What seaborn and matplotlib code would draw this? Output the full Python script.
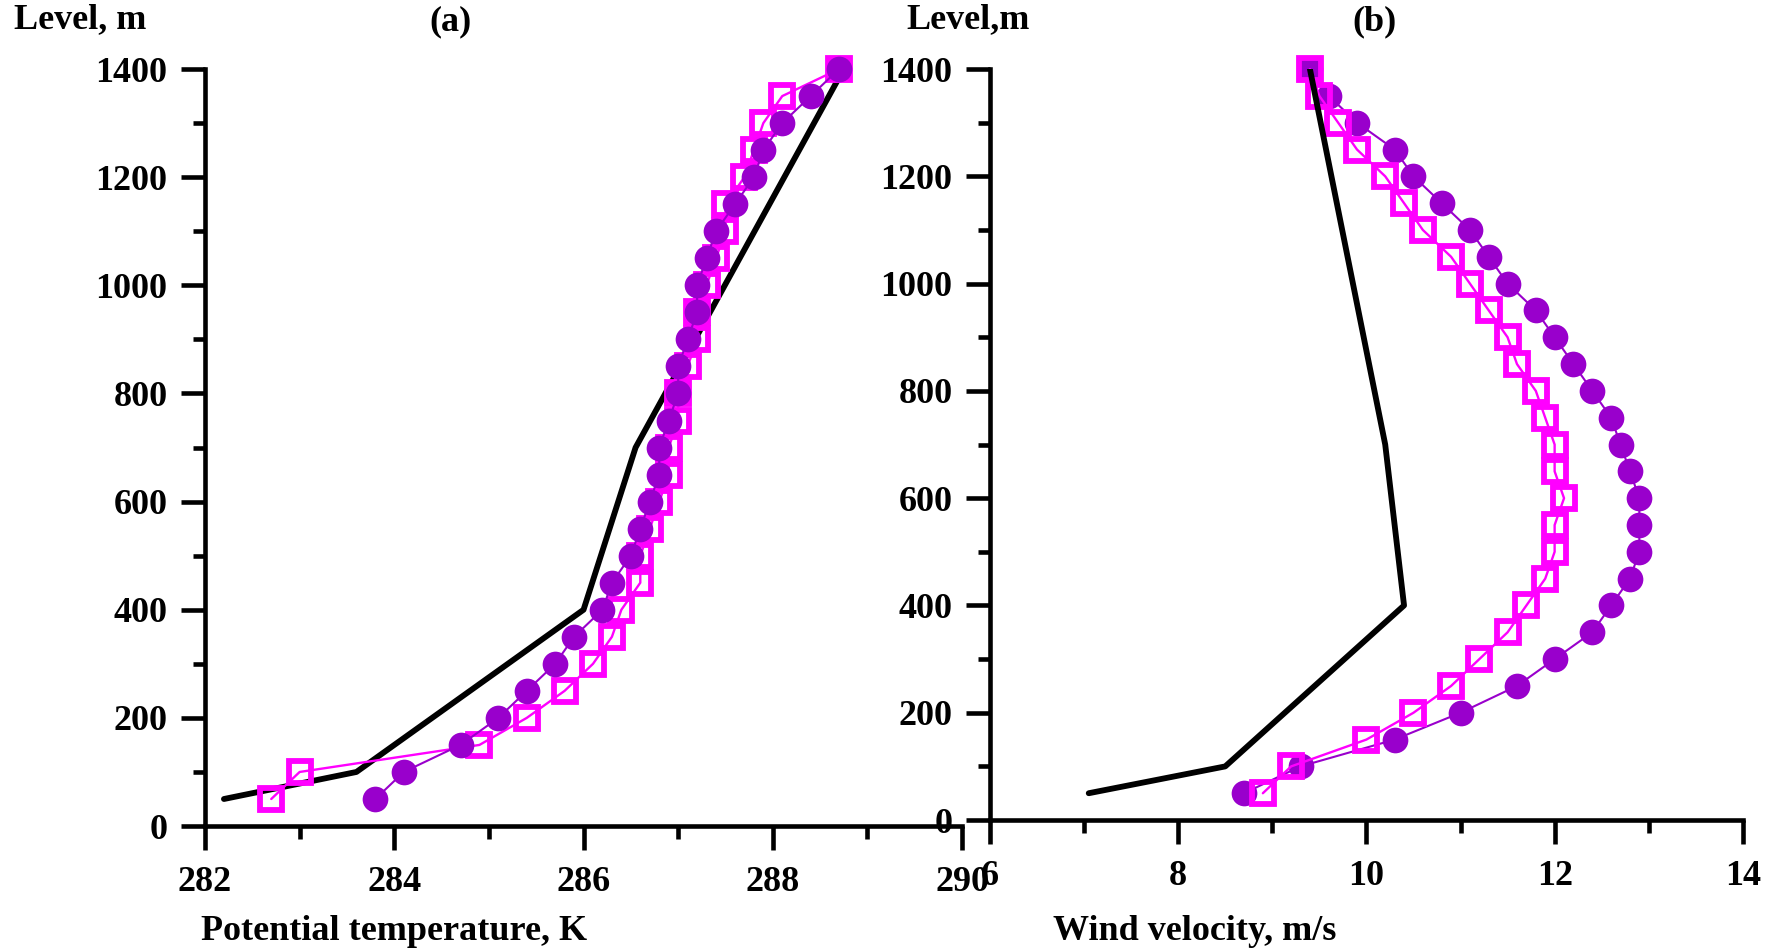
import matplotlib
matplotlib.use("Agg")
import matplotlib.pyplot as plt
from matplotlib.ticker import MultipleLocator
import seaborn as sns
import pandas as pd

# Heights of the profile levels, m
levels = [50, 100, 150, 200, 250, 300, 350, 400, 450, 500, 550, 600, 650, 700,
          750, 800, 850, 900, 950, 1000, 1050, 1100, 1150, 1200, 1250, 1300, 1350, 1400]

# (a) potential temperature, K
theta_obs_level = [50, 100, 400, 700, 1400]
theta_obs = [282.2, 283.6, 286.0, 286.55, 288.75]
theta_circ = [283.8, 284.1, 284.7, 285.1, 285.4, 285.7, 285.9, 286.2, 286.3, 286.5,
              286.6, 286.7, 286.8, 286.8, 286.9, 287.0, 287.0, 287.1, 287.2, 287.2,
              287.3, 287.4, 287.6, 287.8, 287.9, 288.1, 288.4, 288.7]
theta_sq = [282.7, 283.0, 284.9, 285.4, 285.8, 286.1, 286.3, 286.4, 286.6, 286.6,
            286.7, 286.8, 286.9, 286.9, 287.0, 287.0, 287.1, 287.2, 287.2, 287.3,
            287.4, 287.5, 287.5, 287.7, 287.8, 287.9, 288.1, 288.7]

# (b) wind velocity, m/s
wind_obs_level = [50, 100, 400, 700, 1400]
wind_obs = [7.05, 8.5, 10.4, 10.2, 9.4]
wind_circ = [8.7, 9.3, 10.3, 11.0, 11.6, 12.0, 12.4, 12.6, 12.8, 12.9,
             12.9, 12.9, 12.8, 12.7, 12.6, 12.4, 12.2, 12.0, 11.8, 11.5,
             11.3, 11.1, 10.8, 10.5, 10.3, 9.9, 9.6, 9.4]
wind_sq = [8.9, 9.2, 10.0, 10.5, 10.9, 11.2, 11.5, 11.7, 11.9, 12.0,
           12.0, 12.1, 12.0, 12.0, 11.9, 11.8, 11.6, 11.5, 11.3, 11.1,
           10.9, 10.6, 10.4, 10.2, 9.9, 9.7, 9.5, 9.4]

sns.set_theme(style="ticks")
plt.rcParams["font.family"] = ["Liberation Serif", "DejaVu Serif"]
plt.rcParams["font.weight"] = "bold"
plt.rcParams["text.color"] = "black"
plt.rcParams["axes.labelcolor"] = "black"
plt.rcParams["xtick.color"] = "black"
plt.rcParams["ytick.color"] = "black"
plt.rcParams["xtick.labelcolor"] = "black"
plt.rcParams["ytick.labelcolor"] = "black"

PURPLE = "#9900cc"
MAGENTA = "#ff00ff"
FS = 26

fig = plt.figure(figsize=(17.75, 9.51), dpi=100)
ax_a = fig.add_axes([0.1155, 0.1314, 0.4265, 0.796])
ax_b = fig.add_axes([0.5577, 0.1377, 0.4242, 0.7897])


def draw_obs(ax, x, y, z):
    sns.lineplot(x=x, y=y, ax=ax, sort=False, estimator=None, color="black",
                 lw=4.2, zorder=z, legend=False)


def draw_circ(ax, x, y, z):
    sns.lineplot(x=x, y=y, ax=ax, sort=False, estimator=None, color=PURPLE,
                 lw=1.5, marker="o", markersize=18.5, markeredgewidth=0,
                 markerfacecolor=PURPLE, zorder=z, legend=False, clip_on=False)


def draw_sq(ax, x, y, z):
    sns.lineplot(x=x, y=y, ax=ax, sort=False, estimator=None, color=MAGENTA,
                 lw=1.7, marker="s", markersize=15.5, markeredgewidth=4.2,
                 markerfacecolor="none", markeredgecolor=MAGENTA, zorder=z,
                 legend=False, clip_on=False)


draw_obs(ax_a, theta_obs, theta_obs_level, 3)
draw_sq(ax_a, theta_sq, levels, 4)
draw_circ(ax_a, theta_circ, levels, 5)

draw_circ(ax_b, wind_circ, levels, 3)
draw_sq(ax_b, wind_sq, levels, 4)
draw_obs(ax_b, wind_obs, wind_obs_level, 5)


def style_axes(ax, xlim, xmajor):
    ax.set_xlim(*xlim)
    ax.set_ylim(0, 1400)
    ax.xaxis.set_major_locator(MultipleLocator(xmajor))
    ax.xaxis.set_minor_locator(MultipleLocator(xmajor / 2))
    ax.yaxis.set_major_locator(MultipleLocator(200))
    ax.yaxis.set_minor_locator(MultipleLocator(100))
    for side in ("top", "right"):
        ax.spines[side].set_visible(False)
    for side in ("left", "bottom"):
        ax.spines[side].set_linewidth(3.3)
        ax.spines[side].set_color("black")
    ax.tick_params(which="major", direction="out", length=17, width=3.3,
                   labelsize=FS, color="black", labelcolor="black")
    ax.tick_params(which="minor", direction="out", length=9, width=3.3,
                   color="black")
    ax.tick_params(axis="y", which="major", pad=10)
    ax.tick_params(axis="x", which="major", pad=12)
    for lab in ax.get_xticklabels() + ax.get_yticklabels():
        lab.set_fontweight("bold")
    ax.set_xlabel("")
    ax.set_ylabel("")
    ax.set_facecolor("white")


style_axes(ax_a, (282, 290), 2)
style_axes(ax_b, (6, 14), 2)

fig.text(14 / 1775, 1 - 20 / 951, "Level, m", fontsize=FS, fontweight="bold",
         ha="left", va="center")
fig.text(451 / 1775, 1 - 22 / 951, "(a)", fontsize=FS, fontweight="bold",
         ha="center", va="center")
fig.text(906 / 1775, 1 - 20 / 951, "Level,m", fontsize=FS, fontweight="bold",
         ha="left", va="center")
fig.text(1374 / 1775, 1 - 22 / 951, "(b)", fontsize=FS, fontweight="bold",
         ha="center", va="center")
fig.text(201 / 1775, 1 - 931 / 951, "Potential temperature, K", fontsize=FS,
         fontweight="bold", ha="left", va="center")
fig.text(1053 / 1775, 1 - 931 / 951, "Wind velocity, m/s", fontsize=FS,
         fontweight="bold", ha="left", va="center")

fig.savefig("out.png", dpi=100, facecolor="white")
